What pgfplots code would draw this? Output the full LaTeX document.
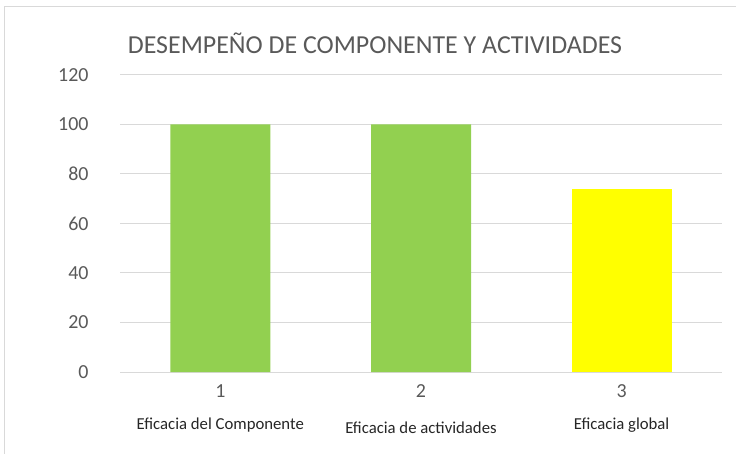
\documentclass[border=0pt]{standalone}
\usepackage{pgfplots}
\pgfplotsset{compat=1.18}
\usepackage{fontspec}
\setmainfont{Carlito}
\definecolor{barverde}{HTML}{92D050}
\definecolor{baramarillo}{HTML}{FFFF00}
\definecolor{gridgris}{HTML}{D9D9D9}
\definecolor{textgris}{HTML}{595959}

\begin{document}
\begin{tikzpicture}
\path[use as bounding box] (0,0) rectangle (736bp,454bp);
\draw[gridgris, line width=1bp] (4bp,0) -- (4bp,447bp) -- (736bp,447bp);
\node[font=\fontsize{26}{30}\selectfont, text=textgris] at (375bp,411bp)
  {DESEMPEÑO DE COMPONENTE Y ACTIVIDADES};
\begin{axis}[
  at={(120bp,82bp)}, anchor=south west,
  scale only axis,
  width=602bp, height=297bp,
  xmin=0.5, xmax=3.5,
  ymin=0, ymax=120,
  ytick={0,20,...,120},
  xtick={1,2,3},
  xticklabels={1,2,3},
  major tick length=0pt,
  axis line style={draw=none},
  ymajorgrids,
  grid style={gridgris, line width=1bp},
  ybar, bar width=100bp, bar shift=0pt,
  /pgf/number format/assume math mode=true,
  ticklabel style={font=\fontsize{20}{22}\selectfont, text=textgris},
  yticklabel style={xshift=-28bp},
  xticklabel style={yshift=-9bp},
  clip=false,
]
\addplot[fill=barverde, draw=none] coordinates {(1,100) (2,100)};
\addplot[fill=baramarillo, draw=none] coordinates {(3,74)};
\node[font=\fontsize{16.8}{19}\selectfont, text=black!85] at (axis cs:1,0) [yshift=-53bp] {Eficacia del Componente};
\node[font=\fontsize{16.8}{19}\selectfont, text=black!85] at (axis cs:2,0) [yshift=-56bp] {Eficacia de actividades};
\node[font=\fontsize{16.8}{19}\selectfont, text=black!85] at (axis cs:3,0) [yshift=-53bp] {Eficacia global};
\end{axis}
\end{tikzpicture}
\end{document}
